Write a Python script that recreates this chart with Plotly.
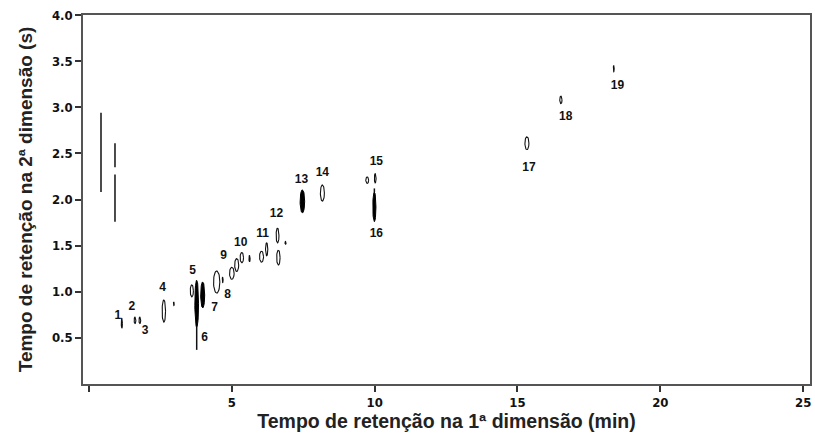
import numpy as np
import plotly.graph_objects as go

# ---- data ----
# streaks (vertical column-bleed lines): rt1 (min), rt2 start (s), rt2 end (s)
streak_rt1 = [0.42, 0.91, 0.91]
streak_y0 = [2.08, 2.35, 1.76]
streak_y1 = [2.94, 2.61, 2.27]

# peak spots: centre rt1 (min), centre rt2 (s), half-width rt1 (min), half-height rt2 (s), filled
peak_rt1 = [1.15, 1.61, 1.78, 2.62, 2.97, 3.60, 3.77, 3.98, 4.47, 4.68, 5.00, 5.17, 5.35, 5.62,
            6.04, 6.22, 6.60, 6.88, 6.63, 7.47, 8.17, 9.74, 10.02, 9.99, 15.33, 16.52, 18.37]
peak_rt2 = [0.66, 0.69, 0.69, 0.79, 0.87, 1.01, 0.87, 0.965, 1.105, 1.13, 1.20, 1.29, 1.37, 1.36,
            1.38, 1.46, 1.61, 1.53, 1.37, 1.98, 2.07, 2.21, 2.23, 1.92, 2.61, 3.08, 3.42]
peak_w1 = [0.02, 0.03, 0.03, 0.06, 0.015, 0.055, 0.065, 0.07, 0.11, 0.015, 0.08, 0.07, 0.06, 0.02,
           0.07, 0.04, 0.05, 0.02, 0.06, 0.08, 0.07, 0.05, 0.03, 0.055, 0.07, 0.04, 0.015]
peak_w2 = [0.055, 0.035, 0.035, 0.12, 0.02, 0.065, 0.255, 0.14, 0.12, 0.03, 0.065, 0.07, 0.055, 0.035,
           0.06, 0.07, 0.08, 0.015, 0.08, 0.125, 0.087, 0.035, 0.05, 0.16, 0.07, 0.04, 0.035]
peak_filled = [0, 0, 0, 0, 0, 0, 1, 1, 0, 0, 0, 0, 0, 0,
               0, 0, 0, 0, 0, 1, 0, 0, 0, 1, 0, 0, 0]

# tails below/above peaks: rt1, rt2 start, rt2 end
tail_rt1 = [3.77, 9.99]
tail_y0 = [0.37, 2.08]
tail_y1 = [0.62, 2.12]

# compound labels
label_text = [str(i) for i in range(1, 20)]
label_rt1 = [1.01, 1.50, 1.96, 2.58, 3.63, 4.05, 4.40, 4.85, 4.71, 5.31, 6.08, 6.56, 7.44, 8.17,
             10.06, 10.06, 15.40, 16.69, 18.50]
label_rt2 = [0.74, 0.84, 0.58, 1.04, 1.23, 0.50, 0.82, 0.97, 1.39, 1.53, 1.63, 1.84, 2.21, 2.29,
             2.41, 1.63, 2.34, 2.89, 3.23]

x_ticks = [0, 5, 10, 15, 20, 25]
x_ticktext = ["", "5", "10", "15", "20", "25"]
y_ticks = [0.5, 1.0, 1.5, 2.0, 2.5, 3.0, 3.5, 4.0]

fig = go.Figure()

# streaks
sx, sy = [], []
for x, a, b in zip(streak_rt1 + tail_rt1, streak_y0 + tail_y0, streak_y1 + tail_y1):
    sx += [x, x, None]
    sy += [a, b, None]
fig.add_trace(go.Scatter(x=sx, y=sy, mode="lines", line=dict(color="#111", width=1.5),
                         hoverinfo="skip", showlegend=False))

t = np.linspace(0, 2 * np.pi, 40)
ox, oy = [], []
for cx, cy, w, h, f in zip(peak_rt1, peak_rt2, peak_w1, peak_w2, peak_filled):
    ex = (cx + w * np.cos(t)).tolist()
    ey = (cy + h * np.sin(t)).tolist()
    if f:
        fig.add_trace(go.Scatter(x=ex, y=ey, mode="lines", fill="toself", fillcolor="#000",
                                 line=dict(color="#000", width=1), hoverinfo="skip",
                                 showlegend=False))
    else:
        ox += ex + [None]
        oy += ey + [None]
fig.add_trace(go.Scatter(x=ox, y=oy, mode="lines", line=dict(color="#111", width=1.1),
                         hoverinfo="skip", showlegend=False))

fig.add_trace(go.Scatter(x=label_rt1, y=label_rt2, text=label_text, mode="text",
                         textfont=dict(family="Liberation Sans, Arial", size=12, color="#111",
                                       weight="bold"),
                         hoverinfo="skip", showlegend=False))

tickfont = dict(family="DejaVu Sans Condensed", size=13, color="#111")
fig.update_layout(
    width=815, height=434,
    margin=dict(l=83, r=3, t=15, b=50),
    plot_bgcolor="white", paper_bgcolor="white",
    xaxis=dict(range=[-0.21, 25.24], tickvals=x_ticks,
               ticktext=[f"<b>{s}</b>" for s in x_ticktext],
               ticks="outside", ticklen=6, tickcolor="#333", tickwidth=1.5,
               showline=True, linecolor="#555", linewidth=1.6, mirror=True,
               showgrid=False, zeroline=False, tickfont=tickfont,
               title=dict(text="<b>Tempo de retenção na 1ª dimensão (min)</b>", standoff=2,
                          font=dict(family="Liberation Sans, Arial", size=19.5, color="#222"))),
    yaxis=dict(range=[0, 4.0], tickvals=y_ticks,
               ticktext=[f"<b>{v:.1f}</b>" for v in y_ticks],
               ticks="outside", ticklen=6, tickcolor="#333", tickwidth=1.5,
               showline=True, linecolor="#555", linewidth=1.6, mirror=True,
               showgrid=False, zeroline=False, tickfont=tickfont,
               title=dict(text="<b>Tempo de retenção na 2ª dimensão (s)</b>", standoff=14,
                          font=dict(family="Liberation Sans, Arial", size=19, color="#222"))),
)

fig.write_html("out.html")
